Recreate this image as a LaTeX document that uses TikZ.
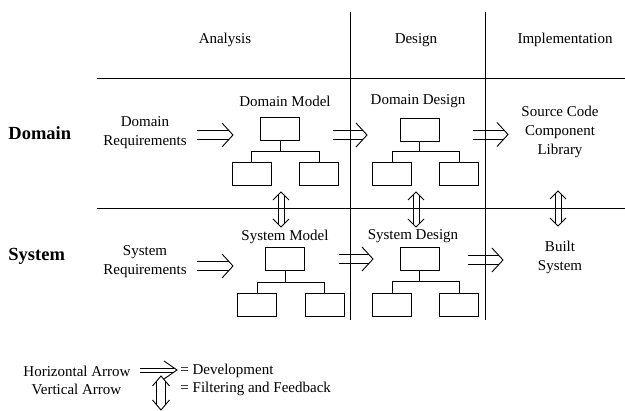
\documentclass[tikz,border=0pt]{standalone}
\usepackage{fontspec}
\setmainfont{Liberation Serif}
\usetikzlibrary{calc}
\newcommand\dblH[5]{% from, to, shaft half sep, head length, head half width
  \draw ($(#1)+(0,-#3)$) -- ($(#2)+({-#4*#3/#5},-#3)$);
  \draw ($(#1)+(0,#3)$) -- ($(#2)+({-#4*#3/#5},#3)$);
  \draw ($(#2)+(-#4,-#5)$) -- (#2) -- ($(#2)+(-#4,#5)$);
}
\newcommand\dblV[5]{% top, bottom, shaft half sep, head length, head half width
  \draw ($(#1)+(-#3,{#4*#3/#5})$) -- ($(#2)+(-#3,{-#4*#3/#5})$);
  \draw ($(#1)+(#3,{#4*#3/#5})$) -- ($(#2)+(#3,{-#4*#3/#5})$);
  \draw ($(#1)+(-#5,#4)$) -- (#1) -- ($(#1)+(#5,#4)$);
  \draw ($(#2)+(-#5,-#4)$) -- (#2) -- ($(#2)+(#5,-#4)$);
}
\begin{document}
\begin{tikzpicture}[x=1pt,y=-1pt,line width=0.9pt,
  txt/.style={font=\fontsize{15}{19}\selectfont, inner sep=0pt, align=center},
  head/.style={font=\fontsize{18.5}{22}\selectfont\bfseries, inner sep=0pt, anchor=west},
  box/.style={draw, minimum width=39pt, minimum height=23pt, inner sep=0pt}]
\useasboundingbox (0,0) rectangle (625,411);
% grid
\coordinate (v1t) at (350,12); \coordinate (v1b) at (350,320);
\coordinate (v2t) at (485,12); \coordinate (v2b) at (485,320);
\coordinate (h1l) at (97,78); \coordinate (h1r) at (625,78);
\coordinate (h2l) at (97,208); \coordinate (h2r) at (625,208);
\draw (v1t) -- (v1b); \draw (v2t) -- (v2b);
\draw (h1l) -- (h1r); \draw (h2l) -- (h2r);
% headers
\node[txt] (ana) at (225,40) {Analysis};
\node[txt] (des) at (416,40) {Design};
\node[txt] (imp) at (565,40) {Implementation};
\node[head] (dom) at (8,133) {Domain};
\node[head] (sys) at (8,256) {System};
% texts
\node[txt] (dreq) at (145,133) {Domain\\Requirements};
\node[txt] (sreq) at (145,262) {System\\Requirements};
\node[txt] (dml) at (285,101) {Domain Model};
\node[txt] (ddl) at (418,101) {Domain Design};
\node[txt] (sml) at (285,237) {System Model};
\node[txt] (sdl) at (413,236) {System Design};
\node[txt] (src) at (560,132) {Source Code\\Component\\Library};
\node[txt] (blt) at (560,257.5) {Built\\System};
% trees
\node[box] (dm0) at (280,128.5) {}; \node[box] (dm1) at (251.5,174) {}; \node[box] (dm2) at (319,174) {};
\draw (dm0.south) -- ++(0,11.5) -| (dm1.north);
\draw (dm0.south) -- ++(0,11.5) -| (dm2.north);
\node[box] (dd0) at (419.5,129.5) {}; \node[box] (dd1) at (392,174) {}; \node[box] (dd2) at (459,174) {};
\draw (dd0.south) -- ++(0,10.5) -| (dd1.north);
\draw (dd0.south) -- ++(0,10.5) -| (dd2.north);
\node[box] (sm0) at (285,259) {}; \node[box] (sm1) at (257,304.5) {}; \node[box] (sm2) at (324.5,304.5) {};
\draw (sm0.south) -- ++(0,11.5) -| (sm1.north);
\draw (sm0.south) -- ++(0,11.5) -| (sm2.north);
\node[box] (sd0) at (419.5,258.5) {}; \node[box] (sd1) at (392,304.5) {}; \node[box] (sd2) at (459,304.5) {};
\draw (sd0.south) -- ++(0,11.5) -| (sd1.north);
\draw (sd0.south) -- ++(0,11.5) -| (sd2.north);
% horizontal development arrows
\coordinate (a1s) at (197,135); \coordinate (a1e) at (233,135);
\coordinate (a2s) at (333,135); \coordinate (a2e) at (367,135);
\coordinate (a3s) at (473,134.5); \coordinate (a3e) at (508,134.5);
\coordinate (a4s) at (197,266); \coordinate (a4e) at (233,266);
\coordinate (a5s) at (339,259); \coordinate (a5e) at (373,259);
\coordinate (a6s) at (468,260); \coordinate (a6e) at (503,260);
\dblH{a1s}{a1e}{4.5}{11}{12}
\dblH{a2s}{a2e}{4.5}{11}{12}
\dblH{a3s}{a3e}{4.5}{11}{12}
\dblH{a4s}{a4e}{4.5}{11}{12}
\dblH{a5s}{a5e}{4.5}{11}{12}
\dblH{a6s}{a6e}{4.5}{11}{12}
% vertical feedback arrows
\coordinate (b1t) at (281,192); \coordinate (b1b) at (281,227);
\coordinate (b2t) at (416,192); \coordinate (b2b) at (416,227);
\coordinate (b3t) at (558,191); \coordinate (b3b) at (558,226);
\dblV{b1t}{b1b}{3}{8}{8}
\dblV{b2t}{b2b}{3}{8}{8}
\dblV{b3t}{b3b}{3}{8}{8}
% legend
\node[txt] (lh) at (77,371) {Horizontal Arrow};
\node[txt] (lv) at (76.5,389) {Vertical Arrow};
\node[txt, anchor=west] (ld) at (180,371) {= Development};
\node[txt, anchor=west] (lf) at (180,389) {= Filtering and Feedback};
\coordinate (lhs) at (140,370); \coordinate (lhe) at (177,370);
\dblH{lhs}{lhe}{2}{13}{9}
\coordinate (lvt) at (161,376); \coordinate (lvb) at (161,410);
\dblV{lvt}{lvb}{4.5}{10}{8.5}
\end{tikzpicture}
\end{document}
